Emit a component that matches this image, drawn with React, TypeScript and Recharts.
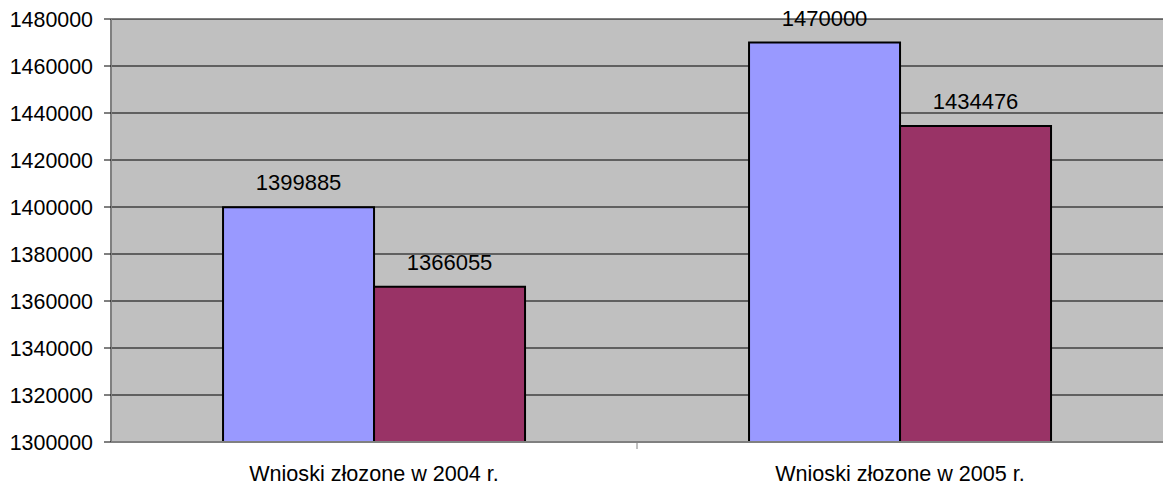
import { BarChart, Bar, XAxis, YAxis, CartesianGrid, LabelList } from "recharts";

const categories = ["Wnioski złozone w 2004 r.", "Wnioski złozone w 2005 r."];
const seriesA = [1399885, 1470000];
const seriesB = [1366055, 1434476];
const yTicks = [1300000, 1320000, 1340000, 1360000, 1380000, 1400000, 1420000, 1440000, 1460000, 1480000];

const data = categories.map((name, i) => ({ name, a: seriesA[i], b: seriesB[i] }));

const FONT = "'Liberation Sans', Arial, sans-serif";

// category label + excel style tick mark between categories
const CatTick = (props: any) => {
  const { x, y, payload, index } = props;
  const half = payload?.offset ?? 263;
  return (
    <g>
      {index > 0 && (
        <line x1={x - half} x2={x - half} y1={y - 8} y2={y - 1} stroke="#808080" strokeWidth={1} />
      )}
      <text x={x} y={y + 31} textAnchor="middle" fontSize={21.6} fill="#000" fontFamily={FONT}>
        {payload.value}
      </text>
    </g>
  );
};

export default function App() {
  return (
    <div style={{ position: "absolute", left: 0, top: 0, background: "#fff" }}>
      <BarChart
        width={1163}
        height={492}
        data={data}
        margin={{ top: 19, right: 0, bottom: 0, left: 0 }}
        barCategoryGap="21.3%"
        barGap={0}
      >
        <CartesianGrid vertical={false} stroke="#000" fill="#c0c0c0" strokeOpacity={1} />
        <XAxis
          dataKey="name"
          height={50}
          tick={<CatTick />}
          tickLine={false}
          axisLine={{ stroke: "#808080", strokeWidth: 2 }}
          interval={0}
        />
        <YAxis
          width={111}
          domain={[1300000, 1480000]}
          ticks={yTicks}
          interval={0}
          tickSize={7}
          tickMargin={11}
          axisLine={{ stroke: "#808080", strokeWidth: 2 }}
          tickLine={{ stroke: "#000" }}
          tick={{ fontSize: 21.4, fill: "#000", fontFamily: FONT }}
          allowDataOverflow
        />
        <Bar dataKey="a" fill="#9999ff" stroke="#000" strokeWidth={2} isAnimationActive={false}>
          <LabelList dataKey="a" position="top" offset={17} fontSize={22} fill="#000" fontFamily={FONT} />
        </Bar>
        <Bar dataKey="b" fill="#993366" stroke="#000" strokeWidth={2} isAnimationActive={false}>
          <LabelList dataKey="b" position="top" offset={17} fontSize={22} fill="#000" fontFamily={FONT} />
        </Bar>
      </BarChart>
    </div>
  );
}
